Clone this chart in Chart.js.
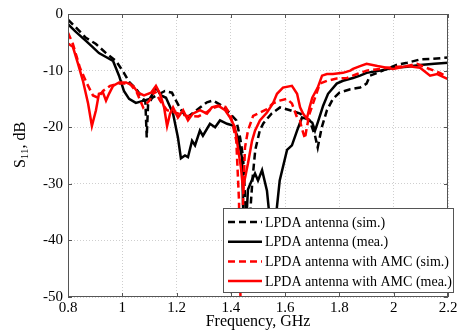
<!DOCTYPE html>
<html>
<head>
<meta charset="utf-8">
<script src="https://cdn.jsdelivr.net/npm/chart.js@4/dist/chart.umd.min.js"></script>
<style>
  html, body { margin: 0; padding: 0; background: #fff; }
</style>
</head>
<body>
<canvas id="s11Chart" width="464" height="334"></canvas>
<script>
// tick labels
const xTicks = [0.8, 1, 1.2, 1.4, 1.6, 1.8, 2, 2.2];
const yTicks = [0, -10, -20, -30, -40, -50];

// LPDA antenna (sim.)
const simF = [0.80, 0.83, 0.866, 0.903, 0.94, 0.977, 1.006, 1.025, 1.05, 1.07, 1.085, 1.09, 1.095, 1.11, 1.13, 1.157, 1.183, 1.20, 1.22, 1.238, 1.26, 1.29, 1.312, 1.334, 1.36, 1.386, 1.42, 1.434, 1.445, 1.455, 1.462, 1.47, 1.48, 1.49, 1.507, 1.52, 1.55, 1.581, 1.618, 1.655, 1.69, 1.71, 1.72, 1.735, 1.754, 1.776, 1.80, 1.84, 1.876, 1.90, 1.913, 1.95, 1.975, 2.01, 2.05, 2.10, 2.145, 2.2];
const simS = [-1.0, -2.4, -4.2, -5.3, -6.9, -8.3, -10.4, -12, -13.2, -14.5, -15.5, -21.8, -16, -14.8, -14.3, -13.6, -13.9, -15.5, -17.2, -18.3, -17.5, -16.4, -15.6, -15.3, -16.0, -17.0, -18.8, -21.8, -25.3, -35, -42, -36, -29, -24, -20.5, -19.3, -17.6, -16.5, -17.0, -17.6, -18.8, -21.5, -23.6, -20, -17, -15, -13.9, -13.3, -13, -12.3, -10.9, -10.2, -9.7, -9.0, -8.6, -8.0, -7.9, -7.7];

// LPDA antenna (mea.)
const meaF = [0.80, 0.83, 0.866, 0.89, 0.914, 0.94, 0.966, 0.988, 1.006, 1.025, 1.05, 1.08, 1.10, 1.113, 1.124, 1.143, 1.161, 1.187, 1.205, 1.216, 1.231, 1.242, 1.257, 1.268, 1.286, 1.297, 1.323, 1.342, 1.36, 1.386, 1.408, 1.426, 1.441, 1.447, 1.453, 1.463, 1.476, 1.489, 1.50, 1.515, 1.533, 1.545, 1.557, 1.57, 1.58, 1.607, 1.625, 1.644, 1.662, 1.68, 1.70, 1.71, 1.72, 1.74, 1.758, 1.79, 1.813, 1.85, 1.876, 1.90, 1.95, 2.0, 2.05, 2.097, 2.15, 2.2];
const meaS = [-1.8, -3.2, -4.75, -5.8, -6.9, -7.6, -8.3, -10.9, -13.6, -15, -15.7, -15.3, -15.0, -14.1, -13, -14.4, -14.8, -17.6, -21.8, -25.5, -25, -25.3, -22.4, -23.2, -20.6, -21.5, -19.4, -20, -18.8, -19.4, -19.7, -21.8, -25.4, -38, -40, -31, -29.5, -28.2, -29.4, -27.6, -31.2, -37, -40, -34, -29.4, -24, -23.2, -20.6, -18.3, -18.5, -19.2, -20.6, -19.2, -16.2, -14.1, -12.3, -11.8, -11.3, -10.9, -10.4, -10.0, -9.5, -9.3, -9.0, -8.8, -8.6];

// LPDA antenna with AMC (sim.)
const amcSimF = [0.80, 0.818, 0.844, 0.87, 0.892, 0.91, 0.929, 0.955, 0.99, 1.028, 1.054, 1.077, 1.10, 1.12, 1.139, 1.165, 1.20, 1.238, 1.28, 1.31, 1.33, 1.36, 1.38, 1.40, 1.42, 1.43, 1.436, 1.445, 1.452, 1.463, 1.482, 1.507, 1.533, 1.555, 1.58, 1.607, 1.625, 1.644, 1.655, 1.66, 1.673, 1.68, 1.69, 1.71, 1.728, 1.754, 1.79, 1.828, 1.865, 1.90, 1.95, 1.975, 2.05, 2.086, 2.12, 2.17, 2.2];
const amcSimS = [-3.3, -5.3, -9.5, -12.3, -14.4, -14.8, -13.6, -12.7, -12.3, -12.3, -13.9, -16.5, -15.3, -13.6, -15.3, -17, -17.5, -18, -18.1, -17.4, -16.7, -16.2, -16.4, -18, -22.4, -33, -52, -33, -23.6, -20.6, -18, -17.4, -16.8, -15.8, -15.3, -15, -15.8, -18.3, -18.8, -20, -22, -20, -17.6, -14.8, -12.3, -11.8, -11.4, -11.3, -10.6, -10, -9.7, -9.5, -9.2, -8.8, -9.5, -10.4, -11.2];

// LPDA antenna with AMC (mea.)
const amcMeaF = [0.80, 0.818, 0.837, 0.855, 0.874, 0.888, 0.903, 0.914, 0.929, 0.94, 0.951, 0.966, 0.988, 1.014, 1.04, 1.058, 1.08, 1.106, 1.124, 1.139, 1.154, 1.165, 1.176, 1.187, 1.205, 1.224, 1.242, 1.26, 1.286, 1.312, 1.33, 1.353, 1.379, 1.397, 1.415, 1.426, 1.437, 1.445, 1.452, 1.463, 1.478, 1.489, 1.507, 1.533, 1.555, 1.57, 1.592, 1.625, 1.644, 1.655, 1.666, 1.68, 1.69, 1.70, 1.72, 1.736, 1.754, 1.776, 1.813, 1.84, 1.85, 1.876, 1.90, 1.94, 1.998, 2.05, 2.097, 2.134, 2.16, 2.2];
const amcMeaS = [-5.2, -5.8, -8.8, -11.8, -15.8, -19.8, -17, -14.1, -13.9, -15.3, -14.1, -12.7, -12.1, -12.1, -12.7, -13.9, -14.4, -13.9, -12.7, -14.1, -16.5, -19.8, -17.6, -16.5, -18.3, -17, -18.8, -17.6, -17, -17.6, -16.5, -16.2, -17, -18.3, -20, -23.6, -27.1, -31, -29, -26.4, -22.4, -20.6, -18.8, -17.4, -15.8, -14.1, -13, -12.7, -14.1, -16.5, -17.6, -18.5, -16.5, -14.8, -13, -10.9, -10.6, -10.6, -10.4, -10, -9.7, -9.2, -8.8, -9.2, -9.7, -9.2, -9.5, -10.9, -10.6, -11.5];

const serif = '"Liberation Serif", "Times New Roman", serif';

function pts(f, s) {
    return f.map((x, i) => ({ x: x, y: s[i] }));
}

// kader, tickjes, titels en legenda zoals in matlab
const decorations = {
    id: 'decorations',
    afterDraw(chart) {
        const c = chart.ctx;
        const a = chart.chartArea;
        const xs = chart.scales.x, ys = chart.scales.y;
        c.save();
        c.strokeStyle = '#555';
        c.lineWidth = 1;
        c.strokeRect(a.left + 0.5, a.top + 0.5, a.right - a.left - 1, a.bottom - a.top - 1);
        c.beginPath();
        xTicks.forEach(v => {
            const px = Math.round(xs.getPixelForValue(v)) + 0.5;
            c.moveTo(px, a.bottom); c.lineTo(px, a.bottom - 4);
            c.moveTo(px, a.top); c.lineTo(px, a.top + 4);
        });
        yTicks.forEach(v => {
            const py = Math.round(ys.getPixelForValue(v)) + 0.5;
            c.moveTo(a.left, py); c.lineTo(a.left + 4, py);
            c.moveTo(a.right, py); c.lineTo(a.right - 4, py);
        });
        c.stroke();

        // x titel
        c.fillStyle = '#000';
        c.font = '16px ' + serif;
        c.textAlign = 'center';
        c.textBaseline = 'middle';
        c.fillText('Frequency, GHz', (a.left + a.right) / 2, 322);

        // y titel met subscript
        c.translate(19, 145);
        c.rotate(-Math.PI / 2);
        c.textAlign = 'left';
        c.textBaseline = 'alphabetic';
        const big = '16px ' + serif, small = '11px ' + serif;
        c.font = big; const wS = c.measureText('S').width;
        c.font = small; const w11 = c.measureText('11').width;
        c.font = big; const wRest = c.measureText(', dB').width;
        let x0 = -(wS + w11 + wRest) / 2;
        c.font = big; c.fillText('S', x0, 6);
        c.font = small; c.fillText('11', x0 + wS, 9);
        c.font = big; c.fillText(', dB', x0 + wS + w11, 6);
        c.setTransform(1, 0, 0, 1, 0, 0);

        // legenda
        const bx = 223, by = 208, bw = 230, bh = 84;
        c.fillStyle = '#fff';
        c.fillRect(bx, by, bw, bh);
        c.strokeStyle = '#555';
        c.strokeRect(bx + 0.5, by + 0.5, bw, bh);
        c.font = '14px ' + serif;
        c.textBaseline = 'middle';
        chart.data.datasets.forEach((ds, i) => {
            const y = 222 + i * 19.7;
            c.strokeStyle = ds.borderColor;
            c.lineWidth = ds.borderWidth;
            c.setLineDash(ds.borderDash || []);
            c.beginPath();
            c.moveTo(228, y); c.lineTo(262, y);
            c.stroke();
            c.setLineDash([]);
            c.fillStyle = '#000';
            c.fillText(ds.label, 265, y + 1);
        });
        c.restore();
    }
};

new Chart(document.getElementById('s11Chart').getContext('2d'), {
    type: 'line',
    data: {
        datasets: [{
            label: 'LPDA antenna (sim.)',
            data: pts(simF, simS),
            borderColor: '#000',
            borderWidth: 2.5,
            borderDash: [7, 4],
            order: 4
        }, {
            label: 'LPDA antenna (mea.)',
            data: pts(meaF, meaS),
            borderColor: '#000',
            borderWidth: 2.5,
            order: 3
        }, {
            label: 'LPDA antenna with AMC (sim.)',
            data: pts(amcSimF, amcSimS),
            borderColor: '#ff0000',
            borderWidth: 2.5,
            borderDash: [7, 4],
            order: 2
        }, {
            label: 'LPDA antenna with AMC (mea.)',
            data: pts(amcMeaF, amcMeaS),
            borderColor: '#ff0000',
            borderWidth: 2.5,
            order: 1
        }]
    },
    options: {
        responsive: false,
        animation: false,
        parsing: false,
        elements: { point: { radius: 0 }, line: { tension: 0, fill: false } },
        layout: { padding: { top: 13, right: 16, left: 0, bottom: 0 } },
        plugins: { legend: { display: false }, tooltip: { enabled: false } },
        scales: {
            x: {
                type: 'linear',
                min: 0.8,
                max: 2.2,
                afterBuildTicks: s => { s.ticks = xTicks.map(v => ({ value: v })); },
                afterFit: s => { s.height = 37; },
                ticks: { color: '#000', font: { family: serif, size: 15 }, padding: 2, maxRotation: 0, autoSkip: false,
                         callback: v => String(v) },
                grid: { color: '#cfcfcf', drawTicks: false },
                border: { display: false, dash: [1, 2] }
            },
            y: {
                min: -50,
                max: 0,
                afterBuildTicks: s => { s.ticks = yTicks.map(v => ({ value: v })); },
                afterFit: s => { s.width = 68; },
                ticks: { color: '#000', font: { family: serif, size: 15 }, padding: 5, callback: v => String(v) },
                grid: { color: '#cfcfcf', drawTicks: false },
                border: { display: false, dash: [1, 2] }
            }
        }
    },
    plugins: [decorations]
});
</script>
</body>
</html>
